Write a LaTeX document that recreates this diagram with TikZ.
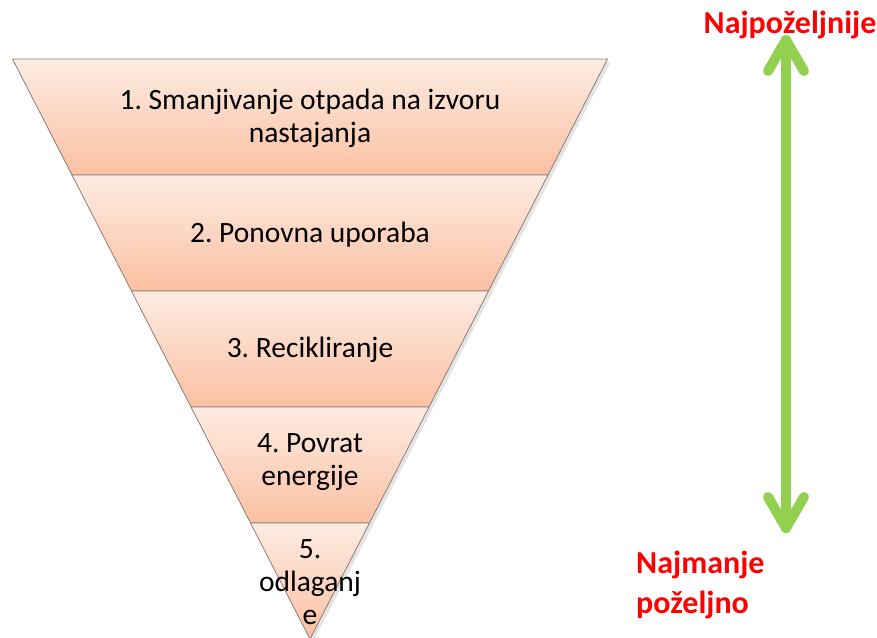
\documentclass[tikz,border=0pt]{standalone}
\usepackage{fontspec}
\setmainfont{Carlito}
\frenchspacing
\definecolor{bandtop}{RGB}{253,236,226}
\definecolor{bandbot}{RGB}{251,192,162}
\definecolor{bandline}{RGB}{140,125,118}
\definecolor{arrowgreen}{RGB}{146,208,80}
\definecolor{redtxt}{RGB}{255,0,0}
\begin{document}
\begin{tikzpicture}[x=1pt,y=-1pt,
  bandtext/.style={font=\fontsize{29.5}{33}\selectfont, align=center, text=black, inner sep=0pt},
  redlabel/.style={font=\fontsize{32}{40}\selectfont\bfseries, text=redtxt, inner sep=0pt},
  band/.style={top color=bandtop, bottom color=bandbot, draw=bandline, line width=0.8pt},
  greenline/.style={draw=arrowgreen, line width=10pt, line cap=round, line join=round}]
\useasboundingbox (0,0) rectangle (877,637);
% shadow
\fill[gray!35, opacity=0.6] (15.5,62) -- (610.5,62) -- (313,642) -- cycle;
% bands
\shade[band] (12.5,59) -- (607.5,59) -- (548,175) -- (72,175) -- cycle;
\shade[band] (72,175) -- (548,175) -- (488.5,291) -- (131.5,291) -- cycle;
\shade[band] (131.5,291) -- (488.5,291) -- (429,407) -- (191,407) -- cycle;
\shade[band] (191,407) -- (429,407) -- (369.5,523) -- (250.5,523) -- cycle;
\shade[band] (250.5,523) -- (369.5,523) -- (310,639) -- cycle;
% texts
\node[bandtext] (t1) at (310,118) {1. Smanjivanje otpada na izvoru\\nastajanja};
\node[bandtext] (t2) at (310,235) {2. Ponovna uporaba};
\node[bandtext] (t3) at (310,350) {3. Recikliranje};
\node[bandtext] (t4) at (310,462) {4. Povrat\\energije};
\node[bandtext] (t5) at (310,582) {5.\\odlaganj\\e};
% green arrow
\coordinate (atop) at (786,40);
\coordinate (abot) at (786,528);
\draw[greenline] (atop) -- (abot);
\draw[greenline] (768,71) -- (atop) -- (804,71);
\draw[greenline] (768,497) -- (abot) -- (804,497);
% red labels
\node[redlabel, anchor=center] (best) at (790,25) {Najpoželjnije};
\node[redlabel, anchor=west, align=left] (worst) at (636,585) {Najmanje\\poželjno};
\end{tikzpicture}
\end{document}
